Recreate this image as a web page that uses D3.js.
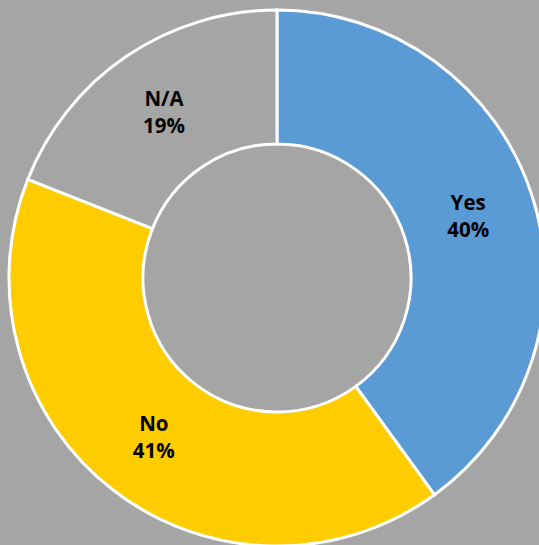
<!DOCTYPE html>
<html>
<head>
<meta charset="utf-8">
<script src="https://cdn.jsdelivr.net/npm/d3@7"></script>
<style>
  html, body { margin: 0; padding: 0; background: #a5a5a5; }
  svg { display: block; }
</style>
</head>
<body>
<svg id="chart" width="539" height="545"></svg>
<script>
const categories = ["Yes", "No", "N/A"];
const values = [40, 41, 19];
const colors = ["#5b9bd5", "#ffcc00", "#a5a5a5"];

const width = 539, height = 545;
const cx = 277, cy = 278;
const outerR = 268, innerR = 134;

const svg = d3.select("#chart");
svg.append("rect").attr("width", width).attr("height", height).attr("fill", "#a5a5a5");

const data = categories.map((c, i) => ({ cat: c, value: values[i], color: colors[i] }));
const total = d3.sum(values);

const pie = d3.pie().value(d => d.value).sort(null);
const arc = d3.arc().innerRadius(innerR).outerRadius(outerR);

const g = svg.append("g").attr("transform", `translate(${cx},${cy})`);
const arcs = pie(data);

g.selectAll("path")
  .data(arcs)
  .join("path")
  .attr("d", arc)
  .attr("fill", d => d.data.color)
  .attr("stroke", "#ffffff")
  .attr("stroke-width", 3)
  .attr("stroke-linejoin", "miter");

const labels = g.selectAll("text.lbl")
  .data(arcs)
  .join("text")
  .attr("class", "lbl")
  .attr("text-anchor", "middle")
  .attr("font-family", "'Open Sans', sans-serif")
  .attr("font-weight", "bold")
  .attr("font-size", 20.5)
  .attr("fill", "#000");

labels.append("tspan")
  .attr("x", d => arc.centroid(d)[0])
  .attr("y", d => arc.centroid(d)[1] - 5.5)
  .text(d => d.data.cat);
labels.append("tspan")
  .attr("x", d => arc.centroid(d)[0])
  .attr("y", d => arc.centroid(d)[1] + 21.5)
  .text(d => Math.round(d.data.value / total * 100) + "%");
</script>
</body>
</html>
